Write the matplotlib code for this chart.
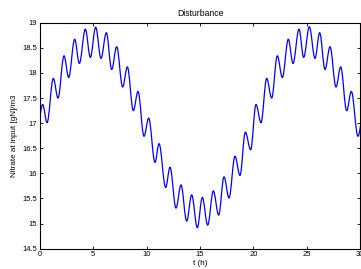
import matplotlib
matplotlib.use("Agg")
import matplotlib.pyplot as plt
from matplotlib.path import Path
from matplotlib.patches import PathPatch

# Extrema of the disturbance curve (t in hours, value in gN/m3)
ext_t = [-0.25, 0.25, 0.66, 1.25, 1.69, 2.25, 2.69, 3.25, 3.69, 4.25, 4.72,
         5.22, 5.72, 6.22, 6.72, 7.19, 7.75, 8.19, 8.75, 9.19, 9.75,
         10.19, 10.78, 11.16, 11.78, 12.19, 12.75, 13.22, 13.75, 14.22, 14.75,
         15.22, 15.72, 16.25, 16.75, 17.25, 17.72, 18.28, 18.75, 19.25, 19.75,
         20.25, 20.72, 21.25, 21.72, 22.25, 22.72, 23.28, 23.72, 24.28, 24.72,
         25.25, 25.78, 26.22, 26.72, 27.19, 27.75, 28.19, 28.75, 29.19, 29.81,
         30.25]
ext_v = [16.90, 17.37, 17.01, 17.89, 17.50, 18.34, 17.91, 18.67, 18.19, 18.87, 18.31,
         18.91, 18.29, 18.80, 18.07, 18.52, 17.72, 18.12, 17.25, 17.63, 16.74,
         17.10, 16.22, 16.59, 15.72, 16.12, 15.31, 15.77, 15.05, 15.57, 14.92,
         15.52, 14.97, 15.65, 15.17, 15.93, 15.51, 16.34, 15.96, 16.82, 16.47,
         17.37, 17.01, 17.89, 17.50, 18.34, 17.91, 18.67, 18.19, 18.87, 18.31,
         18.92, 18.29, 18.80, 18.07, 18.52, 17.72, 18.12, 17.25, 17.63, 16.74,
         17.10]

x_ticks = [0, 5, 10, 15, 20, 25, 30]
y_ticks = [14.5, 15, 15.5, 16, 16.5, 17, 17.5, 18, 18.5, 19]

plt.rcParams['font.family'] = ['Liberation Sans', 'DejaVu Sans']

fig = plt.figure(figsize=(3.61, 2.69), dpi=100)
ax = fig.add_axes([40 / 361, (269 - 248.7) / 269, 320 / 361, 226 / 269])

# smooth curve through the extrema (cubic Bezier segments, flat tangents at extrema)
a = 0.3634
verts = [(ext_t[0], ext_v[0])]
codes = [Path.MOVETO]
for i in range(1, len(ext_t)):
    t0, v0 = ext_t[i - 1], ext_v[i - 1]
    t1, v1 = ext_t[i], ext_v[i]
    d = t1 - t0
    verts += [(t0 + a * d, v0), (t1 - a * d, v1), (t1, v1)]
    codes += [Path.CURVE4] * 3
patch = PathPatch(Path(verts, codes), facecolor='none', edgecolor='#0000ff',
                  linewidth=0.9, transform=ax.transData)
ax.add_patch(patch)

ax.set_xlim(0, 30)
ax.set_ylim(14.5, 19)
ax.set_xticks(x_ticks)
ax.set_yticks(y_ticks)
ax.set_xticklabels([str(v) for v in x_ticks])
ax.set_yticklabels([('%g' % v) for v in y_ticks])
ax.tick_params(direction='in', top=True, right=True, labelsize=5.5,
               length=2.5, width=0.6, pad=2)
for s in ax.spines.values():
    s.set_linewidth(0.8)

ax.set_title('Disturbance', fontsize=6.2, pad=5)
ax.set_xlabel('t (h)', fontsize=5.8, labelpad=1)
ax.set_ylabel('Nitrate at input [gN]/m3', fontsize=5.8, labelpad=3)

fig.savefig('out.png', dpi=100)
